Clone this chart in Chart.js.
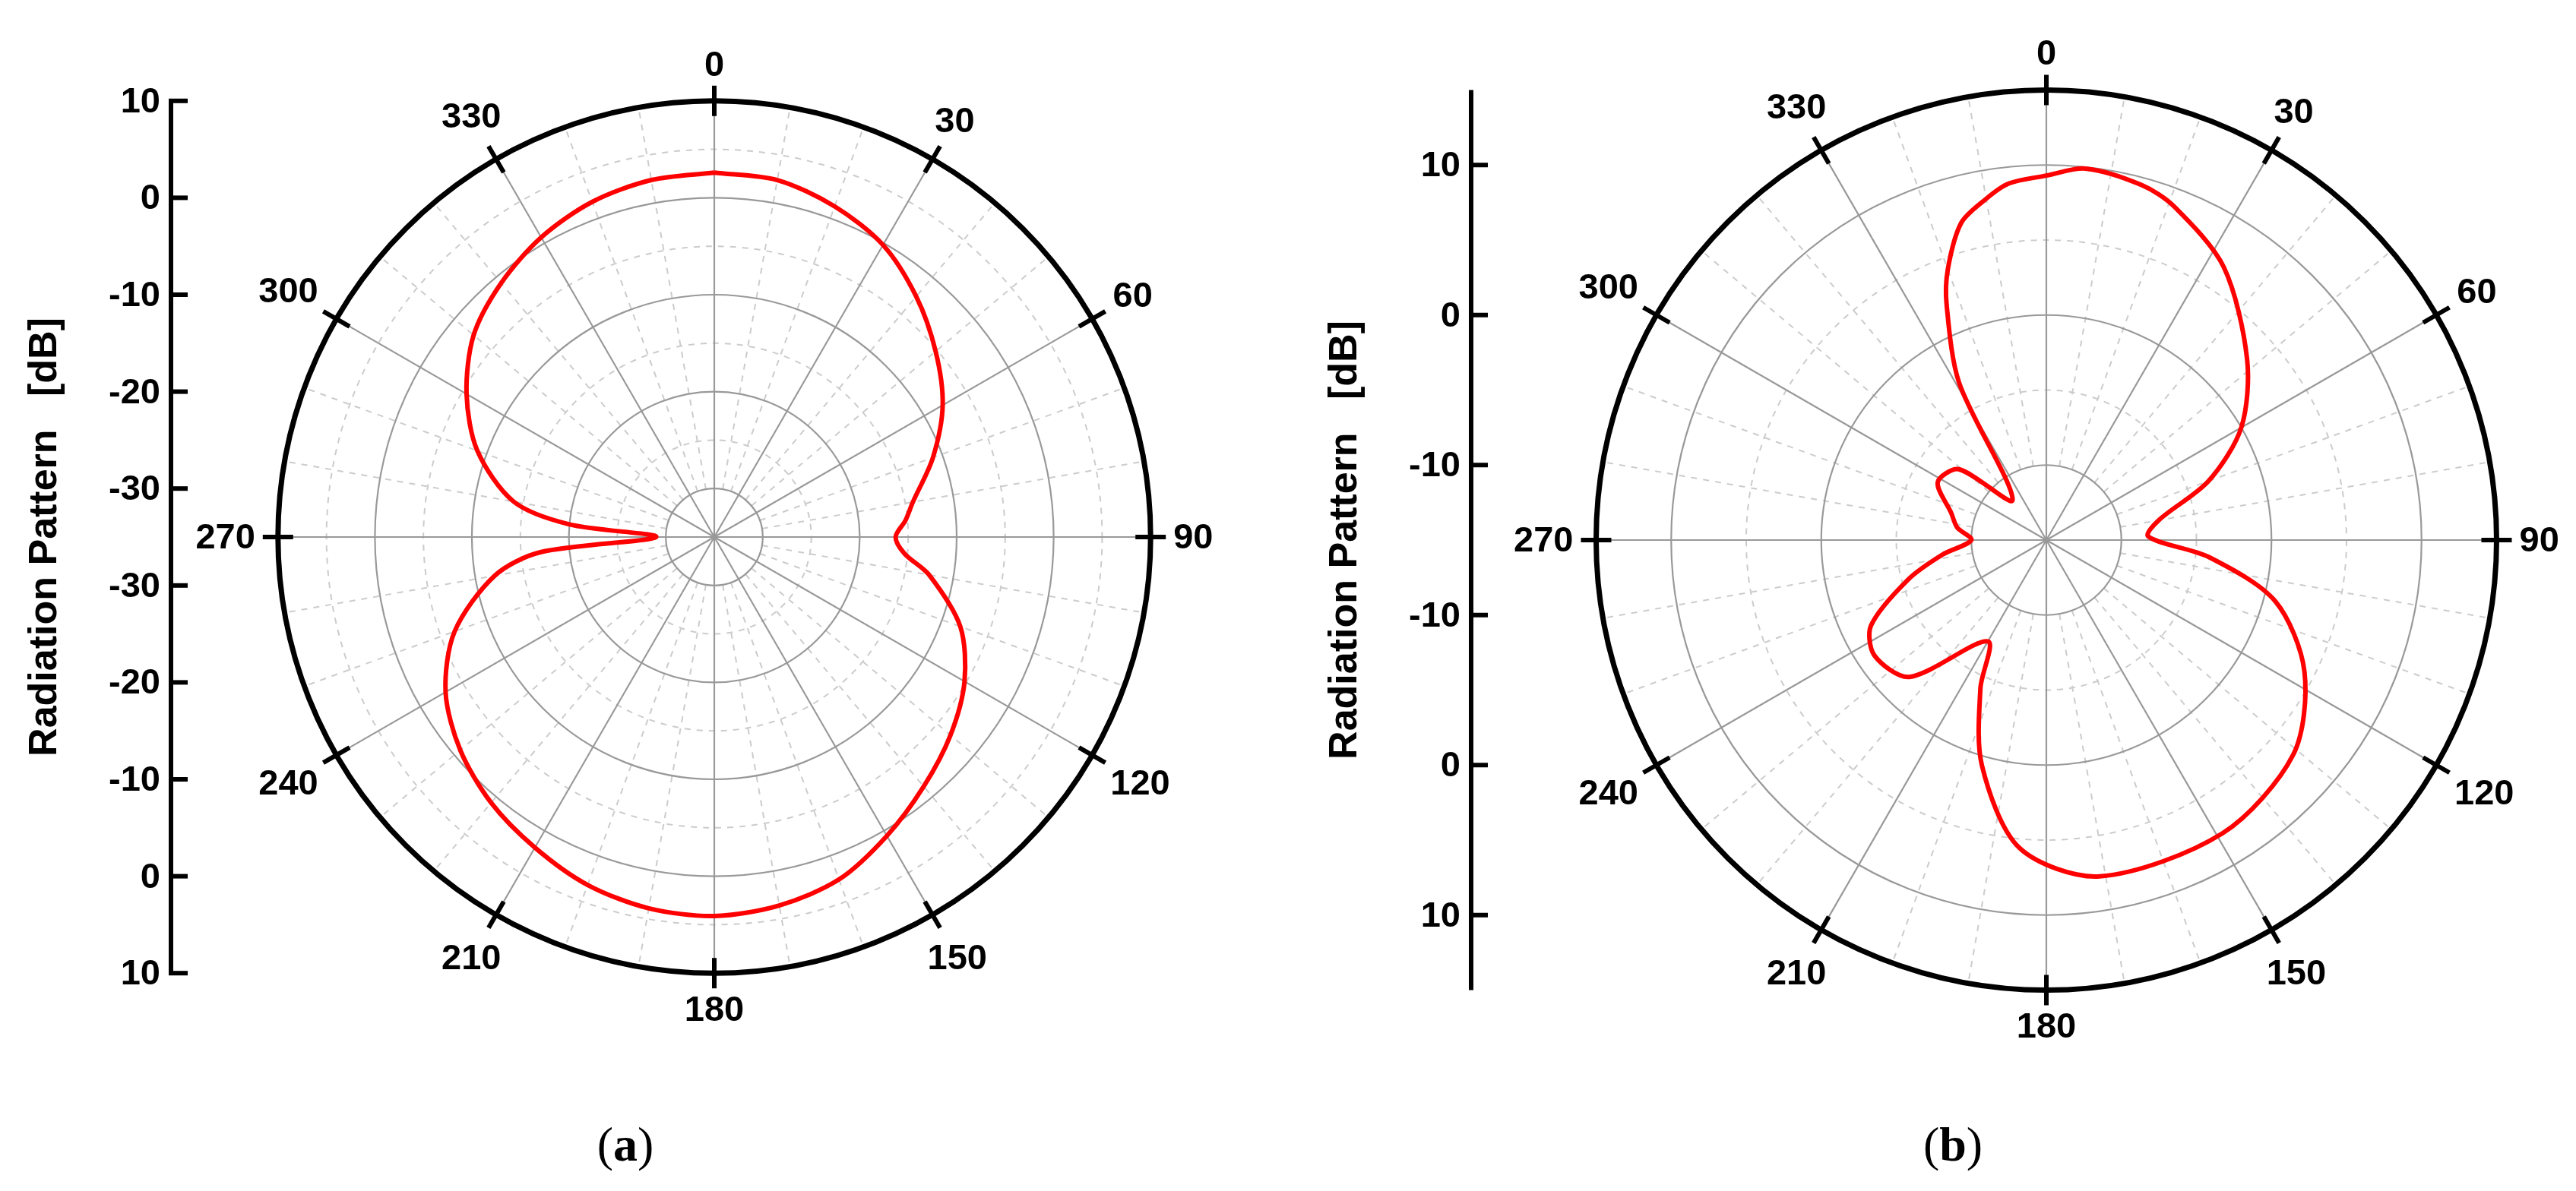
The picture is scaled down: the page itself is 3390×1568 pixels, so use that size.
<!DOCTYPE html>
<html><head><meta charset="utf-8">
<script src="https://cdn.jsdelivr.net/npm/chart.js@4.4.1/dist/chart.umd.min.js"></script>
<style>
body{margin:0;background:#fff;width:3390px;height:1568px;position:relative;overflow:hidden}
canvas{position:absolute;top:0}
.cap{position:absolute;top:1470px;font-family:"Liberation Serif","DejaVu Serif",serif;font-size:64px;transform:translateX(-50%)}
</style></head><body>
<canvas id="ca" style="left:0;width:1700px;height:1568px"></canvas>
<canvas id="cb" style="left:1700px;width:1690px;height:1568px"></canvas>
<div class="cap" style="left:823px">(<b>a</b>)</div>
<div class="cap" style="left:2570px">(<b>b</b>)</div>
<script>
// Panel (a): angle (deg) and gain (dB)
const anglesA = [0,10,20,30,40,50,60,70,80,85,90,95,100,110,120,130,140,150,160,170,180,190,200,210,220,230,240,250,260,265,270,275,280,290,300,310,320,330,340,350];
const gainA   = [2.6,2.4,1.3,-0.2,-2.6,-5.2,-7.8,-11,-14.2,-15.2,-16.3,-15.3,-12.5,-8,-5.2,-3.2,-1.4,0.6,2.6,3.6,4.1,3.9,3.2,2,0.8,-0.8,-3,-6.5,-12,-17,-29,-20,-14,-9,-5.5,-2.6,-0.8,0.7,1.8,2.4];
// Panel (b)
const anglesB = [0,6,15,21,33,48,60,70,80,88,96,105,117,131,149,171,185,196,204,210,225,236,244,254,262,270,278,286,298,309,320,331,337,340,345,350,354];
const gainB   = [9.3,9.9,9.5,8.8,6.7,3,0,-3.5,-7.4,-8.2,-4.1,0.8,4.3,6.8,7.8,7.7,5.6,0.6,-4.2,-7.2,-2.1,-1.2,-2,-5.4,-8,-10,-9,-8.4,-6.8,-7.5,-11.5,-3,2,4.2,6.9,8.1,8.9];
const spokeLabels = ['0','30','60','90','120','150','180','210','240','270','300','330'];
const rangeA = {min:-35,max:10,solid:[-30,-20,-10,0],dashed:[-25,-15,-5,5],axisTicks:[10,0,-10,-20,-30]};
const rangeB = {min:-15,max:15,solid:[-10,0,10],dashed:[-5,5],axisTicks:[10,0,-10]};

function pts(angles,gains,rmin){
  const p = angles.map((a,i)=>{const r=gains[i]-rmin,t=a*Math.PI/180;return {x:r*Math.sin(t),y:r*Math.cos(t)};});
  p.push(p[0]);return p;
}
const FONT = '"Liberation Sans", Arial, sans-serif';
function polarPlugin(rg, axisX){
  return {id:'polar',
  beforeDatasetsDraw(chart){
    const c=chart.ctx,xs=chart.scales.x,ys=chart.scales.y;
    const cx=xs.getPixelForValue(0),cy=ys.getPixelForValue(0);
    const R=v=>ys.getPixelForValue(0)-ys.getPixelForValue(v-rg.min);
    const Ro=R(rg.max);
    c.save();
    c.strokeStyle='#cccccc';c.lineWidth=2;c.setLineDash([8,8]);
    rg.dashed.forEach(v=>{c.beginPath();c.arc(cx,cy,R(v),0,2*Math.PI);c.stroke();});
    const r0=R(rg.solid[0]);
    for(let a=0;a<360;a+=10){ if(a%30===0) continue; const t=a*Math.PI/180;
      c.beginPath();c.moveTo(cx+r0*Math.sin(t),cy-r0*Math.cos(t));c.lineTo(cx+Ro*Math.sin(t),cy-Ro*Math.cos(t));c.stroke();}
    c.setLineDash([]);c.strokeStyle='#999';c.lineWidth=2.2;
    rg.solid.forEach(v=>{c.beginPath();c.arc(cx,cy,R(v),0,2*Math.PI);c.stroke();});
    for(let a=0;a<360;a+=30){const t=a*Math.PI/180;
      c.beginPath();c.moveTo(cx,cy);c.lineTo(cx+Ro*Math.sin(t),cy-Ro*Math.cos(t));c.stroke();}
    c.restore();
  },
  afterDatasetsDraw(chart){
    const c=chart.ctx,xs=chart.scales.x,ys=chart.scales.y;
    const cx=xs.getPixelForValue(0),cy=ys.getPixelForValue(0);
    const R=v=>ys.getPixelForValue(0)-ys.getPixelForValue(v-rg.min);
    const Ro=R(rg.max);
    c.save();
    c.strokeStyle='#000';c.lineWidth=7;
    c.beginPath();c.arc(cx,cy,Ro,0,2*Math.PI);c.stroke();
    c.font='bold 47px '+FONT;c.fillStyle='#000';c.textAlign='center';c.textBaseline='middle';
    spokeLabels.forEach((lab,i)=>{const t=i*30*Math.PI/180,s=Math.sin(t),co=Math.cos(t);
      c.lineWidth=6;c.beginPath();c.moveTo(cx+(Ro-20)*s,cy-(Ro-20)*co);c.lineTo(cx+(Ro+20)*s,cy+-(Ro+20)*co);c.stroke();
      const w=c.measureText(lab).width,h=36;
      const d=Ro+30+Math.abs(s)*w/2+Math.abs(co)*h/2;
      c.fillText(lab,cx+d*s,cy-d*co+2);});
    const top=ys.getPixelForValue(rg.max-rg.min),bot=ys.getPixelForValue(rg.min-rg.max);
    c.lineWidth=6;c.beginPath();c.moveTo(axisX,top);c.lineTo(axisX,bot);c.stroke();
    c.textAlign='right';
    rg.axisTicks.forEach(v=>{[1,-1].forEach(sg=>{const y=ys.getPixelForValue(sg*(v-rg.min));
      c.beginPath();c.moveTo(axisX-3,y);c.lineTo(axisX+22,y);c.stroke();
      c.fillText(String(v),axisX-14,y+2);});});
    c.font='bold 52px '+FONT;c.textAlign='center';
    c.translate(axisX-165,cy);c.rotate(-Math.PI/2);c.fillText('Radiation Pattern   [dB]',0,0);
    c.restore();
  }};
}
function make(id,angles,gains,rg,lim,axisX){
  return new Chart(document.getElementById(id),{type:'scatter',
    data:{datasets:[{data:pts(angles,gains,rg.min),showLine:true,borderColor:'#ff0000',borderWidth:6,pointRadius:0,tension:0.3}]},
    options:{responsive:false,maintainAspectRatio:false,animation:false,devicePixelRatio:1,
      layout:{padding:0},plugins:{legend:{display:false},tooltip:{enabled:false}},
      scales:{x:{type:'linear',display:false,min:lim[0],max:lim[1]},y:{type:'linear',display:false,min:lim[2],max:lim[3]}}},
    plugins:[polarPlugin(rg,axisX)]});
}
const ca=document.getElementById('ca');ca.width=1700;ca.height=1568;
const cb=document.getElementById('cb');cb.width=1690;cb.height=1568;
const sA=12.76, sB=19.75;
make('ca',anglesA,gainA,rangeA,[-940/sA,(1700-940)/sA,-(1568-707)/sA,707/sA],225);
make('cb',anglesB,gainB,rangeB,[-993/sB,(1690-993)/sB,-(1568-711)/sB,711/sB],236);
</script></body></html>
